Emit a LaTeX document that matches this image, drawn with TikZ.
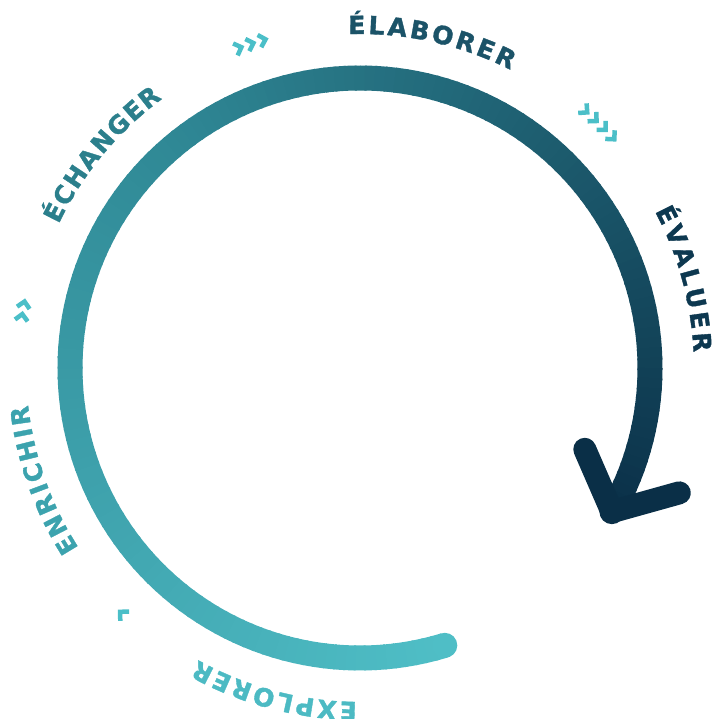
\documentclass[tikz,border=0pt]{standalone}
\usepackage{fontspec}
\usetikzlibrary{calc,decorations.text}
\newfontfamily\lblfont{DejaVu Sans}[BoldFeatures={FakeBold=1.5}]
\definecolor{gA}{HTML}{4FBEC6}
\definecolor{gB}{HTML}{2F8895}
\definecolor{gC}{HTML}{0B3149}
\definecolor{navy}{HTML}{0A2F47}
\definecolor{chevc}{HTML}{4BBFC8}
\definecolor{cLab}{HTML}{1B5368}
\definecolor{cEva}{HTML}{0D3850}
\definecolor{cEch}{HTML}{2B7F8C}
\definecolor{cEnr}{HTML}{3CA3AE}
\definecolor{cExp}{HTML}{4CBAC3}
\newcommand\arclabel[4]{%
  \path[decorate, decoration={text along path, text align=fit to path,
    text={|\lblfont\bfseries\fontsize{25}{25}\selectfont\color{#3}|#4}}]
    (O) ++(#1:334) arc[start angle=#1, end angle=#2, radius=334];
}
\begin{document}
\begin{tikzpicture}[x=1pt,y=1pt,
  chevline/.style={draw=chevc, line width=4.5pt, line cap=butt, line join=miter},
  chev/.pic={\draw[chevline] (-3.2,6.4) -- (3.2,0) -- (-3.2,-6.4);},
  armline/.style={draw=navy, line width=23pt, line cap=round, line join=round}]
\useasboundingbox (0,0) rectangle (714,719);
\coordinate (O) at (360,351);
% gradient arc
\foreach \i in {0,...,159}{
  \pgfmathsetmacro\aA{-73-\i*1.979375}
  \pgfmathsetmacro\aB{\aA-2.379375}
  \pgfmathsetmacro\t{\i*0.628931}
  \ifdim\t pt<50pt \pgfmathsetmacro\p{\t*2}\colorlet{segc}{gB!\p!gA}%
  \else \pgfmathsetmacro\p{(\t-50)*2}\colorlet{segc}{gC!\p!gB}\fi
  \draw[segc, line width=25pt] (O) ++(\aA:290) arc[start angle=\aA, end angle=\aB, radius=290];
}
\coordinate (start) at ($(O)+(-73:290)$);
\fill[gA] (start) circle[radius=12.5];
% arrow head
\coordinate (apex) at ($(O)+(-29.7:290)$);
\coordinate (armL) at ($(apex)+(113.5:68)$);
\coordinate (armR) at ($(apex)+(15.6:70)$);
\fill[navy] (apex) circle[radius=12.5];
\draw[armline] (armL) -- (apex) -- (armR);
% chevrons
\foreach \a in {48.9,46.77,44.64,42.5,110.83,108.7,106.57,171.47,169.33,226}{
  \pic[rotate=\a-90] at ($(O)+(\a:342)$) {chev};
}
% labels
\arclabel{92}{63.2}{cLab}{ÉLABORER}
\arclabel{28}{2.7}{cEva}{ÉVALUER}
\arclabel{154.5}{126.3}{cEch}{ÉCHANGER}
\arclabel{212.6}{186.4}{cEnr}{ENRICHIR}
\arclabel{269.5}{241}{cExp}{EXPLORER}
\end{tikzpicture}
\end{document}
